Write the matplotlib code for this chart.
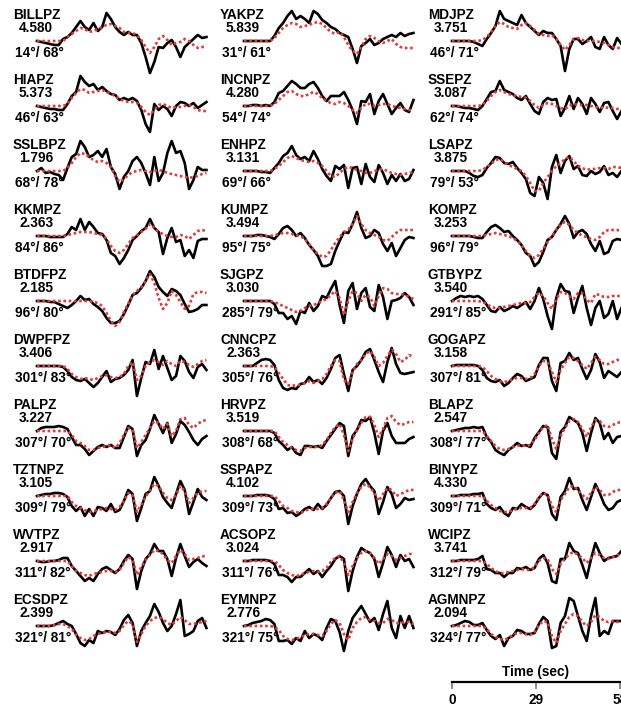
import numpy as np
import matplotlib
matplotlib.use("Agg")
import matplotlib.pyplot as plt

plt.rcParams['font.family'] = ['Liberation Sans', 'DejaVu Sans']

# ---- station info (column by column) --------------------------------
stations = ["BILLPZ", "HIAPZ", "SSLBPZ", "KKMPZ", "BTDFPZ",
            "DWPFPZ", "PALPZ", "TZTNPZ", "WVTPZ", "ECSDPZ",
            "YAKPZ", "INCNPZ", "ENHPZ", "KUMPZ", "SJGPZ",
            "CNNCPZ", "HRVPZ", "SSPAPZ", "ACSOPZ", "EYMNPZ",
            "MDJPZ", "SSEPZ", "LSAPZ", "KOMPZ", "GTBYPZ",
            "GOGAPZ", "BLAPZ", "BINYPZ", "WCIPZ", "AGMNPZ"]
amps = [4.580, 5.373, 1.796, 2.363, 2.185, 3.406, 3.227, 3.105, 2.917, 2.399,
        5.839, 4.280, 3.131, 3.494, 3.030, 2.363, 3.519, 4.102, 3.024, 2.776,
        3.751, 3.087, 3.875, 3.253, 3.540, 3.158, 2.547, 4.330, 3.741, 2.094]
azimuths = [14, 46, 68, 84, 96, 301, 307, 309, 311, 321,
            31, 54, 69, 95, 285, 305, 308, 309, 311, 321,
            46, 62, 79, 96, 291, 307, 308, 309, 312, 324]
distances = [68, 63, 78, 86, 80, 83, 70, 79, 82, 81,
             61, 74, 66, 75, 79, 76, 68, 73, 76, 75,
             71, 74, 53, 79, 85, 81, 77, 71, 79, 77]

dt = 1.5          # s between samples
time_ticks = [0, 29, 58]

# ---- waveforms: observed (black) / synthetic (red), normalised -------
BILLPZ_obs = [0,-1,-2,-3,-4,-4,2,4,8,14, 20,14,11,18,10,14,28,22,14,9, 6,9,6,6,-2,-16,-32,-21,-6,-7, -2,1,-6,-16,-6,-2,2,6,3,4]
BILLPZ_syn = [0,0,0,0,0,0,0,4,7,10, 13,12,9,10,12,14,16,17,15,13, 9,8,8,6,1,-6,-12,-6,2,5, 1,-4,-2,-1,2,0,-4,-7,-6,-6]
HIAPZ_obs = [0,-1,-2,-3,-3,-4,-4,2,10,14, 30,24,20,22,16,19,15,12,11,6, 8,6,8,5,-4,-18,-26,2,-4,0, -3,-10,0,4,3,0,3,-2,1,4]
HIAPZ_syn = [0,0,0,0,0,0,0,2,8,13, 17,16,13,14,15,16,14,12,10,7, 5,4,4,3,-1,-6,-9,-4,1,2, 0,-2,-1,-1,0,1,-1,-4,-5,-5]
SSLBPZ_obs = [0,3,-2,-1,-3,-4,-9,3,14,17, 30,24,14,16,20,14,22,4,-3,-18, -6,0,10,14,8,-2,-14,14,-10,-2, 18,30,18,20,8,-18,-9,4,1,1]
SSLBPZ_syn = [0,0,0,0,0,0,0,3,8,14, 18,17,14,11,9,10,8,4,-5,-11, -8,-4,-1,0,1,0,-1,0,1,0, -2,-3,-4,-5,-6,-7,-6,-5,-3,-2]
KKMPZ_obs = [0,0,0,-1,-1,-1,-1,2,9,6, 17,6,14,9,3,2,-4,-17,-20,-28, -22,-14,-4,0,5,8,17,8,4,-18, -2,8,-6,-4,-20,-14,-22,-5,-3,-3]
KKMPZ_syn = [0,0,0,0,0,0,0,1,2,3, 4,4,4,3,2,1,-3,-10,-15,-17, -14,-8,-2,1,4,7,12,8,4,2, 0,-1,-1,1,0,-3,1,5,6,5]
BTDFPZ_obs = [0,0,0,-1,-1,-3,-5,-7,-4,0, 5,1,2,-3,-6,-10,-17,-22,-22,-20, -13,-4,6,8,13,20,30,24,14,9, 5,12,10,6,-3,-11,-10,-8,-4,-4]
BTDFPZ_syn = [0,0,0,0,0,0,0,0,0,0, 0,0,0,-1,-2,-5,-12,-20,-25,-21, -11,-3,6,10,14,20,27,18,3,-8, -2,10,6,-1,-8,-5,7,9,9,8]
DWPFPZ_obs = [0,0,0,0,0,0,-1,-5,-11,-14, -15,-13,-17,-21,-17,-11,-5,-16,-13,-12, -9,-4,6,-30,-12,4,2,16,-3,10, -2,-14,-10,10,5,-6,-12,-1,2,-4]
DWPFPZ_syn = [0,0,0,0,0,0,0,-3,-8,-11, -13,-12,-13,-14,-12,-10,-9,-11,-12,-11, -8,0,4,-14,-10,0,4,6,4,1, 5,2,0,5,4,1,-1,2,5,6]
PALPZ_obs = [0,3,4,4,4,5,4,2,-6,-14, -14,-18,-24,-20,-16,-14,-16,-14,-17,-17, -6,5,2,-25,-14,-9,2,16,7,-2, 8,-12,-3,10,6,-1,-9,-14,-8,-5]
PALPZ_syn = [0,0,0,0,0,0,0,0,-4,-10, -12,-15,-19,-19,-17,-16,-15,-14,-17,-12, -4,3,1,-17,-11,-4,3,10,8,2, 7,-5,0,12,13,6,3,7,10,11]
TZTNPZ_obs = [0,1,2,2,3,3,2,-1,-10,-15, -11,-20,-13,-20,-11,-12,-15,-8,-16,-14, -5,6,2,-25,-12,2,5,19,10,-1, -7,-12,2,15,6,-18,-6,7,-1,-4]
TZTNPZ_syn = [0,0,0,0,0,0,0,0,-6,-10, -12,-14,-16,-15,-14,-13,-12,-13,-14,-11, -5,3,1,-16,-9,-1,6,12,10,3, -2,-4,1,10,5,-7,-2,3,5,5]
WVTPZ_obs = [0,-1,-1,0,0,1,3,3,-5,-10, -15,-20,-17,-20,-13,-8,-6,-9,-12,-8, 0,6,2,-28,-10,2,7,17,10,10, 2,-15,3,17,5,-6,-1,2,-2,-5]
WVTPZ_syn = [0,0,0,0,0,0,0,0,-5,-10, -12,-14,-15,-13,-12,-11,-10,-10,-11,-9, -2,4,1,-14,-6,1,6,11,10,7, 1,-2,5,11,7,1,2,3,5,4]
ECSDPZ_obs = [0,0,0,0,1,3,5,2,0,-8, -17,-20,-14,-17,-5,-7,-5,-6,-9,-3, 6,11,3,-20,-5,3,10,22,14,3, -5,0,12,26,-10,-8,-5,5,8,-2]
ECSDPZ_syn = [0,0,0,0,1,2,2,0,-3,-9, -12,-14,-13,-10,-8,-7,-6,-6,-7,-5, 1,5,2,-16,-8,0,5,8,9,7, 3,1,5,9,6,2,2,3,4,5]

YAKPZ_obs = [0,0,0,0,0,0,0,5,13,18, 25,30,22,25,22,18,30,27,21,18, 14,12,8,6,4,-8,-22,-5,-2,2, -4,-2,2,4,6,4,8,5,7,8]
YAKPZ_syn = [0,0,0,0,0,0,0,3,8,13, 16,18,17,14,15,16,18,19,17,13, 9,7,9,4,-4,-10,-13,-6,2,5, 3,0,-2,0,2,-3,-6,-7,-7,-7]
INCNPZ_obs = [0,0,1,1,0,1,0,4,13,15, 20,25,22,18,18,22,24,18,10,5, 10,10,10,14,6,-4,-18,5,4,12, -8,5,12,2,-8,-2,3,-4,-6,6]
INCNPZ_syn = [0,0,0,0,0,0,0,2,6,10, 14,15,12,10,10,12,14,12,8,5, 3,2,4,3,0,-4,-7,-2,2,2, 0,1,2,2,0,-1,-2,-3,-4,-4]
ENHPZ_obs = [0,0,0,0,-1,-1,-2,3,8,15, 18,25,16,12,14,10,20,12,2,-5, -10,5,2,6,-17,3,4,-13,7,-6, -11,6,-2,-13,-4,-10,-3,-10,-8,1]
ENHPZ_syn = [0,0,0,0,0,0,0,2,5,9, 13,15,13,11,10,9,10,8,5,0, -5,-6,-2,2,4,3,1,0,-2,-2, 0,1,2,0,-2,-3,-4,-3,-2,-1]
KUMPZ_obs = [0,0,0,1,1,0,-1,-3,2,8, 10,6,0,3,-2,-9,-14,-20,-30,-30, -28,-15,-5,4,3,12,24,8,-2,0, 6,3,-8,-15,-7,-20,-12,-4,-1,-2]
KUMPZ_syn = [0,0,0,0,0,0,0,1,2,3, 3,2,1,0,-3,-8,-14,-18,-21,-20, -14,-7,-1,4,6,12,20,12,6,3, 1,-1,-4,-5,-1,3,6,6,6,6]
SJGPZ_obs = [0,0,0,0,0,0,0,-3,-12,-12, -18,-15,-23,-10,-12,-2,-10,-5,5,3, 12,20,-4,-22,10,18,-8,8,13,-6, -10,16,4,-18,0,1,3,8,4,-4]
SJGPZ_syn = [0,0,0,0,0,0,0,-1,-3,-5, -7,-9,-11,-10,-7,-5,-4,-2,0,2, 6,10,3,-14,0,10,8,0,6,4, -5,5,13,12,8,7,7,6,4,2]
CNNCPZ_obs = [0,0,0,3,6,7,6,1,-14,-22, -24,-22,-23,-18,-17,-11,-16,-14,-18,-12, -3,8,11,-8,-25,-4,0,6,14,17, 6,-6,-16,4,18,2,-7,-8,-7,-6]
CNNCPZ_syn = [0,0,0,0,0,0,0,-1,-7,-13, -19,-20,-19,-19,-17,-15,-17,-15,-13,-8, 0,6,5,-14,-18,-6,2,6,12,15, 9,0,3,10,16,12,4,6,11,9]
HRVPZ_obs = [0,0,0,0,0,0,0,-2,-10,-14, -19,-16,-22,-24,-15,-15,-16,-15,-17,-10, -4,2,8,5,-25,-5,1,11,10,14, -2,-23,0,8,-5,-12,-12,-12,-8,-6]
HRVPZ_syn = [0,0,0,0,0,0,0,0,-6,-11, -14,-17,-19,-20,-17,-16,-16,-16,-14,-9, -2,4,7,-4,-20,-8,1,8,14,14, 6,-6,2,13,15,9,6,7,9,9]
SSPAPZ_obs = [0,0,0,1,1,1,0,-3,-13,-12, -17,-16,-20,-17,-13,-11,-14,-8,-13,-9, -2,4,5,0,-28,-10,2,12,17,10, 5,-18,-6,9,2,-12,-8,-2,-4,-3]
SSPAPZ_syn = [0,0,0,0,0,0,0,0,-5,-10, -12,-15,-16,-17,-15,-13,-13,-13,-12,-8, -2,3,5,-4,-16,-6,3,9,12,9, 3,-5,2,8,6,0,2,4,6,6]
ACSOPZ_obs = [0,0,1,1,1,1,0,-3,-14,-14, -16,-21,-16,-16,-12,-8,-13,-10,-16,-10, -5,2,5,2,-30,-10,4,13,10,8, 2,-16,-2,14,6,-6,6,0,2,-6]
ACSOPZ_syn = [0,0,0,0,0,0,0,0,-4,-9, -12,-14,-15,-14,-12,-11,-10,-11,-10,-7, -1,3,5,-2,-14,-5,3,8,10,8, 3,-3,2,7,5,1,3,5,7,7]
EYMNPZ_obs = [0,1,3,4,5,7,6,2,-15,-15, -14,-18,-12,-15,-5,-12,-8,-10,-14,-2, 7,5,-6,-25,-5,8,14,20,12,4, 8,-4,12,25,-2,-12,10,-2,10,-2]
EYMNPZ_syn = [0,0,0,0,0,0,0,-1,-4,-10, -13,-14,-13,-11,-9,-8,-8,-9,-10,-5, 2,6,3,-8,-14,-2,4,8,9,6, 5,3,3,7,6,3,3,4,4,2]

MDJPZ_obs = [0,0,0,0,0,-1,-3,-5,2,8, 15,30,22,20,18,16,26,18,14,10, 6,10,8,8,2,-5,-30,-8,2,2, -3,0,4,-6,-8,4,-4,-8,3,-3]
MDJPZ_syn = [0,0,0,0,0,0,0,1,4,9, 15,19,17,14,13,12,16,18,15,11, 7,6,5,6,2,-4,-9,-4,2,3, 1,0,0,0,-1,-2,-4,-6,-7,-7]
SSEPZ_obs = [0,0,-1,-2,-2,-3,-4,0,7,14, 15,25,16,14,12,8,6,10,2,-5, -8,4,8,6,7,-10,-2,10,-3,8, 2,-8,8,2,-6,3,4,-5,-13,-5]
SSEPZ_syn = [0,0,0,0,0,0,0,1,5,10, 14,16,14,12,11,10,9,8,5,1, -2,1,3,2,0,-2,-3,0,2,1, 1,1,0,-1,-2,-1,-2,-2,-3,-3]
LSAPZ_obs = [0,0,0,0,-2,-5,-6,-4,3,8, 14,13,8,7,9,3,-2,-8,-22,-25, -6,-12,-28,4,16,-2,10,15,2,5, -4,-5,0,-3,-1,5,-4,-2,-6,0]
LSAPZ_syn = [0,0,0,0,0,0,0,1,4,7, 11,12,9,6,4,2,0,-5,-12,-20, -20,-12,-6,0,5,8,12,14,10,5, 3,1,2,2,3,3,2,4,4,3]
KOMPZ_obs = [0,0,0,0,0,-1,-2,-2,4,9, 11,8,4,5,0,-4,-9,-17,-20,-30, -26,-16,-4,-1,6,12,20,12,-2,4, 6,2,-8,-15,-5,-18,-16,-5,-3,-4]
KOMPZ_syn = [0,0,0,0,0,0,0,0,1,2, 3,2,1,0,-2,-5,-9,-15,-20,-22, -19,-13,-6,0,6,11,14,11,6,3, 0,-1,-3,-4,-1,4,6,6,6,5]
GTBYPZ_obs = [0,3,5,4,5,4,5,2,-4,-10, -11,-6,-10,-8,-5,-7,-4,-1,-8,0, 13,2,-15,-28,3,17,10,9,-12,3, 15,-7,-24,-7,0,-17,-13,0,-18,-7]
GTBYPZ_syn = [0,0,0,0,0,0,0,-1,-3,-6, -7,-7,-6,-5,-4,-3,-2,-2,-1,4, 8,5,-2,-8,2,9,8,5,2,8, 8,1,-2,7,6,4,4,5,5,5]
GOGAPZ_obs = [0,1,1,1,1,1,0,-4,-12,-15, -16,-14,-20,-17,-12,-8,-10,-15,-13,-11, 1,8,8,-15,-25,3,5,13,6,8, -3,-13,-4,12,4,-12,-5,-8,-11,-6]
GOGAPZ_syn = [0,0,0,0,0,0,0,-1,-5,-10, -13,-15,-16,-15,-13,-12,-12,-13,-12,-8, 0,5,4,-6,-16,-4,3,9,8,5, 1,-3,3,9,6,2,2,4,6,6]
BLAPZ_obs = [0,1,2,3,3,4,3,4,-6,-11, -19,-22,-24,-19,-16,-12,-15,-14,-16,-7, -1,5,4,-22,-28,-1,4,14,11,8, -2,-20,-2,13,8,-8,-2,-12,-6,-5]
BLAPZ_syn = [0,0,0,0,0,0,0,0,-5,-10, -15,-18,-19,-18,-16,-15,-14,-15,-14,-9, -2,4,6,-8,-18,-5,3,10,12,9, 2,-6,4,11,10,5,4,6,8,9]
BINYPZ_obs = [0,0,1,1,1,2,2,3,-8,-12, -14,-11,-17,-20,-12,-13,-8,-11,-13,-9, -2,3,1,-18,-24,-1,5,18,7,8, -4,-14,-1,12,3,-8,-14,-12,-6,-4]
BINYPZ_syn = [0,0,0,0,0,0,0,0,-5,-9, -12,-15,-16,-16,-14,-13,-12,-12,-12,-8, -1,3,1,-10,-16,-4,2,9,10,6, 1,-3,3,9,6,1,1,4,6,6]
WCIPZ_obs = [0,0,1,1,1,1,2,5,-8,-9, -12,-12,-16,-12,-12,-7,-8,-6,-9,-7, 2,6,-2,-20,-22,2,2,18,10,8, -4,-17,2,18,8,0,3,4,5,10]
WCIPZ_syn = [0,0,0,0,0,0,0,0,-3,-7, -10,-12,-12,-11,-10,-9,-8,-9,-9,-6, 0,3,2,-8,-13,-3,2,7,9,6, 3,-2,3,8,6,3,2,4,6,6]
AGMNPZ_obs = [0,1,3,5,4,1,1,3,-4,-10, -13,-9,-20,-12,-10,-4,-5,-8,-8,-7, 2,9,5,-22,-20,3,10,28,25,10, -5,-15,10,28,-10,-5,-8,5,5,5]
AGMNPZ_syn = [0,0,0,0,0,0,0,0,-3,-8, -11,-13,-14,-12,-9,-7,-7,-8,-9,-6, 1,5,4,-10,-17,-5,2,9,12,10, 4,0,4,11,9,5,4,5,4,5]

obs_traces = [BILLPZ_obs, HIAPZ_obs, SSLBPZ_obs, KKMPZ_obs, BTDFPZ_obs,
              DWPFPZ_obs, PALPZ_obs, TZTNPZ_obs, WVTPZ_obs, ECSDPZ_obs,
              YAKPZ_obs, INCNPZ_obs, ENHPZ_obs, KUMPZ_obs, SJGPZ_obs,
              CNNCPZ_obs, HRVPZ_obs, SSPAPZ_obs, ACSOPZ_obs, EYMNPZ_obs,
              MDJPZ_obs, SSEPZ_obs, LSAPZ_obs, KOMPZ_obs, GTBYPZ_obs,
              GOGAPZ_obs, BLAPZ_obs, BINYPZ_obs, WCIPZ_obs, AGMNPZ_obs]
syn_traces = [BILLPZ_syn, HIAPZ_syn, SSLBPZ_syn, KKMPZ_syn, BTDFPZ_syn,
              DWPFPZ_syn, PALPZ_syn, TZTNPZ_syn, WVTPZ_syn, ECSDPZ_syn,
              YAKPZ_syn, INCNPZ_syn, ENHPZ_syn, KUMPZ_syn, SJGPZ_syn,
              CNNCPZ_syn, HRVPZ_syn, SSPAPZ_syn, ACSOPZ_syn, EYMNPZ_syn,
              MDJPZ_syn, SSEPZ_syn, LSAPZ_syn, KOMPZ_syn, GTBYPZ_syn,
              GOGAPZ_syn, BLAPZ_syn, BINYPZ_syn, WCIPZ_syn, AGMNPZ_syn]

# ---- layout (pixels on a 621x709 canvas) -----------------------------
W, H = 621, 709
col_x = [37, 244, 452]        # trace start per column
base0, row_step = 41, 65      # baseline of first row, row spacing
px_per_s = 84.0 / 29.0
tmax = 58.5
FS = 9.8

fig = plt.figure(figsize=(W / 100, H / 100), dpi=100)

for i, name in enumerate(stations):
    col, row = divmod(i, 10)
    x0 = col_x[col]
    base = base0 + row_step * row
    ax = fig.add_axes([x0 / W, (H - base - 40) / H, tmax * px_per_s / W, 80 / H])
    ax.set_xlim(0, tmax)
    ax.set_ylim(-40, 40)
    ax.axis("off")

    obs = obs_traces[i]
    syn = syn_traces[i]
    ax.plot(np.arange(len(obs)) * dt, obs, color="black", lw=1.9,
            solid_joinstyle="round", clip_on=False, zorder=2)
    ax.plot(np.arange(len(syn)) * dt, syn, color="#dc3c3a", lw=1.9,
            ls=(0, (1, 1)), clip_on=False, zorder=3)

    kw = dict(xy=(0, 0), xycoords="data", textcoords="offset pixels",
              ha="left", va="center", fontsize=FS, fontweight="bold",
              annotation_clip=False)
    ax.annotate(name, xytext=(-24, 26), **kw)
    ax.annotate("%.3f" % amps[i], xytext=(-18, 13), **kw)
    ax.annotate("%d°/ %d°" % (azimuths[i], distances[i]), xytext=(-22, -12), **kw)

# ---- time scale bar ----------------------------------------------------
tax = fig.add_axes([452 / W, (H - 682) / H, 58 * px_per_s / W, 0.5 / H])
tax.set_xlim(0, 58)
tax.set_ylim(0, 1)
for s in ("left", "right", "top"):
    tax.spines[s].set_visible(False)
tax.spines["bottom"].set_linewidth(1.6)
tax.set_yticks([])
tax.set_xticks(time_ticks)
tax.set_xticklabels([str(v) for v in time_ticks], fontsize=FS, fontweight="bold")
tax.tick_params(axis="x", length=5, width=1.2, color="#777777", pad=3)
tax.annotate("Time (sec)", xy=(0.5, 0), xycoords="axes fraction",
             xytext=(0, 10), textcoords="offset pixels", ha="center", va="center",
             fontsize=FS, fontweight="bold", annotation_clip=False)

fig.savefig("out.png", dpi=100)
